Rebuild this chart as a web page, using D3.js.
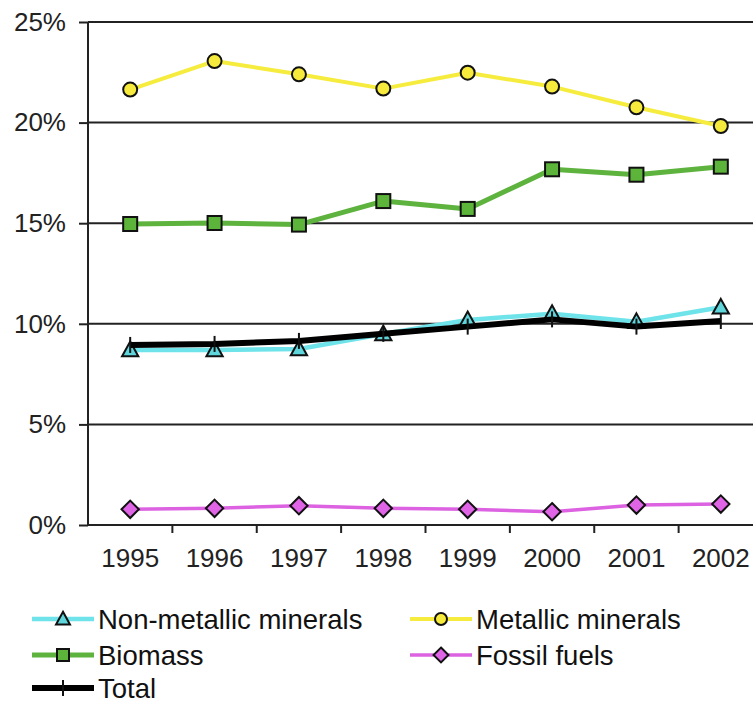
<!DOCTYPE html>
<html>
<head>
<meta charset="utf-8">
<script src="https://cdn.jsdelivr.net/npm/d3@7"></script>
<style>
  html, body { margin: 0; padding: 0; background: #fff; }
  svg { display: block; font-family: "Liberation Sans", Arial, sans-serif; }
</style>
</head>
<body>
<svg id="chart" width="753" height="705"></svg>
<script>
const years = ["1995", "1996", "1997", "1998", "1999", "2000", "2001", "2002"];
const yTicks = [0, 5, 10, 15, 20, 25];
const nonMetallic = [8.70, 8.70, 8.75, 9.49, 10.19, 10.50, 10.10, 10.82];
const metallic = [21.64, 23.06, 22.40, 21.69, 22.48, 21.79, 20.76, 19.83];
const biomass = [14.96, 15.01, 14.93, 16.10, 15.71, 17.68, 17.41, 17.81];
const fossil = [0.78, 0.83, 0.96, 0.83, 0.78, 0.66, 0.99, 1.04];
const total = [8.95, 9.00, 9.15, 9.50, 9.86, 10.22, 9.86, 10.14];
const seriesNames = ["Non-metallic minerals", "Metallic minerals", "Biomass", "Fossil fuels", "Total"];

const series = [
  { name: seriesNames[0], values: nonMetallic, line: "#6ee3ea", fill: "#5fd6dc", width: 4.5, marker: "triangle" },
  { name: seriesNames[1], values: metallic, line: "#f6ec3e", fill: "#f6ea3c", width: 4, marker: "circle" },
  { name: seriesNames[2], values: biomass, line: "#5db33d", fill: "#5cb53a", width: 5, marker: "square" },
  { name: seriesNames[3], values: fossil, line: "#dc62e2", fill: "#e065e6", width: 3.5, marker: "diamond" },
  { name: seriesNames[4], values: total, line: "#000000", fill: "#000000", width: 6, marker: "tick" }
];

const svg = d3.select("#chart");
const mLeft = 88, mRight = 763, mTop = 22, mBottom = 525;

const x = d3.scaleBand().domain(years).range([mLeft, mRight]).padding(0);
const y = d3.scaleLinear().domain([0, 25]).range([mBottom, mTop]);
const cx = d => x(d) + x.bandwidth() / 2;

// gridlines
svg.append("g").selectAll("line").data(yTicks.filter(t => t > 0)).join("line")
  .attr("x1", mLeft).attr("x2", mRight)
  .attr("y1", d => y(d)).attr("y2", d => y(d))
  .attr("stroke", "#222").attr("stroke-width", 2);

// y axis
const yAxis = svg.append("g").attr("transform", `translate(${mLeft},0)`)
  .call(d3.axisLeft(y).tickValues(yTicks).tickFormat(d => d + "%").tickSize(9).tickPadding(13));
yAxis.select(".domain").attr("stroke", "#222").attr("stroke-width", 2).attr("d", `M0,${mTop}V${mBottom}`);
yAxis.selectAll(".tick line").attr("stroke", "#222").attr("stroke-width", 2);
yAxis.selectAll(".tick text").attr("font-size", 26).attr("fill", "#222")
  .attr("font-family", "Liberation Sans, Arial, sans-serif");

// x axis
const xAxis = svg.append("g").attr("transform", `translate(0,${mBottom})`)
  .call(d3.axisBottom(x).tickSize(0).tickPadding(24));
xAxis.select(".domain").attr("stroke", "#222").attr("stroke-width", 2).attr("d", `M${mLeft},0H${mRight}`);
xAxis.selectAll(".tick text").attr("font-size", 26).attr("fill", "#222")
  .attr("font-family", "Liberation Sans, Arial, sans-serif");
// boundary ticks
svg.append("g").selectAll("line").data(years.slice(1)).join("line")
  .attr("x1", d => x(d)).attr("x2", d => x(d))
  .attr("y1", mBottom).attr("y2", mBottom + 8)
  .attr("stroke", "#222").attr("stroke-width", 2);

function drawMarker(g, type, fill, px, py, s) {
  if (type === "circle") {
    g.append("circle").attr("cx", px).attr("cy", py).attr("r", s * 0.5)
      .attr("fill", fill).attr("stroke", "#111").attr("stroke-width", 2);
  } else if (type === "square") {
    g.append("rect").attr("x", px - s / 2).attr("y", py - s / 2).attr("width", s).attr("height", s)
      .attr("fill", fill).attr("stroke", "#111").attr("stroke-width", 2);
  } else if (type === "triangle") {
    const h = s;
    g.append("path").attr("d", `M${px},${py - h * 0.6}L${px + s * 0.58},${py + h * 0.45}L${px - s * 0.58},${py + h * 0.45}Z`)
      .attr("fill", fill).attr("stroke", "#111").attr("stroke-width", 2);
  } else if (type === "diamond") {
    const r = s * 0.62;
    g.append("path").attr("d", `M${px},${py - r}L${px + r},${py}L${px},${py + r}L${px - r},${py}Z`)
      .attr("fill", fill).attr("stroke", "#111").attr("stroke-width", 2);
  } else if (type === "tick") {
    g.append("line").attr("x1", px).attr("x2", px).attr("y1", py - 8).attr("y2", py + 8)
      .attr("stroke", "#111").attr("stroke-width", 2);
  }
}

const line = d3.line().x((d, i) => cx(years[i])).y(d => y(d));
series.forEach(s => {
  const g = svg.append("g");
  g.append("path").datum(s.values).attr("d", line)
    .attr("fill", "none").attr("stroke", s.line).attr("stroke-width", s.width)
    .attr("stroke-linejoin", "round");
  s.values.forEach((v, i) => drawMarker(g, s.marker, s.fill, cx(years[i]), y(v), 14));
});

// legend
const legendPos = [
  { lx: 32, ly: 619 }, { lx: 410, ly: 619 },
  { lx: 32, ly: 655 }, { lx: 410, ly: 655 },
  { lx: 32, ly: 688 }
];
const legendOrder = [0, 1, 2, 3, 4];
legendOrder.forEach((si, k) => {
  const s = series[si];
  const p = legendPos[k];
  const g = svg.append("g");
  g.append("line").attr("x1", p.lx).attr("x2", p.lx + 62).attr("y1", p.ly).attr("y2", p.ly)
    .attr("stroke", s.line).attr("stroke-width", s.width);
  drawMarker(g, s.marker, s.fill, p.lx + 31, p.ly, 12);
  g.append("text").attr("x", p.lx + 66).attr("y", p.ly).attr("dy", "0.36em")
    .attr("font-size", 27.5).attr("fill", "#111").text(s.name);
});
</script>
</body>
</html>
